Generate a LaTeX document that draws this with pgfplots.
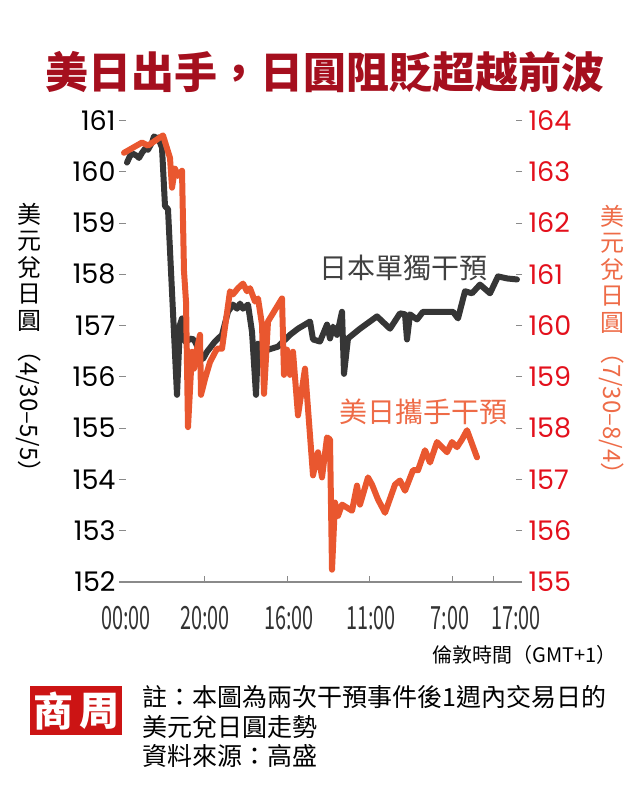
\documentclass[border=0pt]{standalone}
\usepackage{fontspec}
\usepackage{pgfplots}
\pgfplotsset{compat=1.18}
\setmainfont{Poppins}
\newfontfamily\cjk{Noto Sans CJK TC}
\newfontfamily\pop{Poppins}
\definecolor{blk}{HTML}{363636}
\definecolor{org}{HTML}{E9572F}
\definecolor{orgl}{HTML}{EE6B47}
\definecolor{rlab}{HTML}{E3101C}
\definecolor{ttl}{HTML}{A50F1E}
\definecolor{tk}{HTML}{8A8A8A}
\definecolor{logo}{HTML}{CC1414}
\newcommand\fs[1]{\fontsize{#1bp}{#1bp}\selectfont}

\pgfplotstableread{
x y
8 160.18
11 160.31
14 160.35
18 160.31
20 160.27
23 160.37
26 160.45
29 160.43
33 160.57
35 160.69
38 160.65
39 160.67
43 160.47
46 159.33
49 159.27
58 155.65
61 157.02
63 157.14
66 156.69
73 156.75
76 156.69
84 156.35
88 156.49
96 156.69
103 156.82
109 157.27
114 157.41
118 157.33
121 157.43
124 157.33
129 157.41
133 156.88
137 155.65
139 156.65
143 156.61
149 156.53
159 156.59
171 156.82
179 156.94
191 157.08
194 156.73
201 156.69
208 157.02
211 156.75
214 156.98
218 156.82
223 157.27
225 156.06
229 156.75
241 156.94
258 157.18
271 156.94
281 157.24
286 157.22
288 156.73
291 157.22
298 157.12
304 157.27
334 157.27
339 157.14
346 157.67
353 157.63
361 157.80
371 157.63
379 157.96
388 157.92
398 157.90
}\japan

\pgfplotstableread{
x y
5 163.37
23 163.57
29 163.51
44 163.71
51 163.27
53 162.69
56 163.06
59 162.92
63 163.02
65 161.06
67 160.47
69 158.02
73 159.49
75 159.16
78 159.55
81 159.82
82 158.65
86 158.96
91 159.29
98 159.55
103 159.55
111 160.67
114 160.61
119 160.73
124 160.82
128 160.67
131 160.73
136 160.47
139 160.53
143 160.02
145 158.67
149 160.08
163 160.53
165 159.04
168 159.53
171 159.04
174 159.49
179 158.25
186 159.16
194 157.08
199 157.53
203 157.04
208 157.82
211 157.78
213 155.24
216 156.55
219 156.29
223 156.51
233 156.39
238 156.88
241 156.51
249 157.04
253 156.90
259 156.61
266 156.35
276 156.90
281 156.98
286 156.78
294 157.18
299 157.18
306 157.57
311 157.33
318 157.73
328 157.53
333 157.73
338 157.63
343 157.78
348 157.96
358 157.43
}\usjapan

\begin{document}
\begin{tikzpicture}
\useasboundingbox (0,0) rectangle (644bp,-800bp);
% title
\node[font=\cjk\bfseries\fs{43}, text=ttl] at (325bp,-72bp) {美日出手，日圓阻貶超越前波};

\begin{axis}[
  at={(119bp,-582bp)}, anchor=south west,
  scale only axis, width=403bp, height=461.5bp,
  xmin=0, xmax=403, ymin=152, ymax=161,
  axis x line*=bottom, axis y line*=left,
  x axis line style={draw=tk, line width=1.2bp, -},
  y axis line style={draw=none},
  xtick={85,168,250,333,374}, xticklabels={},
  ytick={152,153,...,161},
  tick align=inside, major tick length=6.5bp,
  xtick style={draw=tk, line width=1bp},
  ytick style={draw=tk, line width=1bp},
  /pgf/number format/assume math mode=true,
  yticklabel style={font=\pop\fs{27}, text=black},
]
\addplot[blk, line width=6bp, line join=round, line cap=round] table[x=x,y=y] {\japan};
\end{axis}

\begin{axis}[
  at={(119bp,-582bp)}, anchor=south west,
  scale only axis, width=403bp, height=461.5bp,
  xmin=0, xmax=403, ymin=155, ymax=164,
  axis x line=none, axis y line*=right,
  y axis line style={draw=none},
  ytick={155,156,...,164},
  tick align=inside, major tick length=6.5bp,
  ytick style={draw=tk, line width=1bp},
  /pgf/number format/assume math mode=true,
  yticklabel style={font=\pop\fs{27}, text=rlab, xshift=3bp},
]
\addplot[org, line width=6bp, line join=round, line cap=round] table[x=x,y=y] {\usjapan};
\end{axis}

% x tick labels
\foreach \x/\l in {126/00:00, 205/20:00, 289/16:00, 371/11:00, 450/7:00, 516/17:00}{
  \node[font=\cjk\fs{32}, text=black!80, inner sep=0] at ({\x bp},-618bp) {\scalebox{0.62}[1]{\l}};
}
\node[anchor=east, font=\cjk\fs{20}, inner sep=0] at (617bp,-655bp) {倫敦時間（GMT+1）};

% series labels
\node[font=\cjk\fs{28}, text=black!75, inner sep=0] at (403bp,-268bp) {日本單獨干預};
\node[font=\cjk\fs{28}, text=orgl, inner sep=0] at (423bp,-412bp) {美日攜手干預};

% vertical axis titles
\node[anchor=north, font=\cjk\fontsize{24bp}{26.5bp}\selectfont, align=center, inner sep=0] at (29bp,-203bp) {美\\元\\兌\\日\\圓};
\node[rotate=-90, anchor=west, font=\cjk\fs{24}, inner sep=0] at (29bp,-338bp) {（4/30–5/5）};
\node[anchor=north, font=\cjk\fontsize{24bp}{26.5bp}\selectfont, align=center, inner sep=0, text=orgl] at (612bp,-205bp) {美\\元\\兌\\日\\圓};
\node[rotate=-90, anchor=west, font=\cjk\fs{24}, inner sep=0, text=orgl] at (612bp,-340bp) {（7/30–8/4）};

% logo
\fill[logo] (30bp,-686bp) rectangle (122bp,-735bp);
\node[font=\cjk\bfseries\fs{40}, text=white, inner sep=0] at (53bp,-711bp) {商};
\node[font=\cjk\bfseries\fs{40}, text=white, inner sep=0] at (99bp,-711bp) {周};

% note
\node[anchor=west, font=\cjk\fs{25}, inner sep=0] at (142bp,-697bp) {註：本圖為兩次干預事件後1週內交易日的};
\node[anchor=west, font=\cjk\fs{25}, inner sep=0] at (142bp,-727bp) {美元兌日圓走勢};
\node[anchor=west, font=\cjk\fs{25}, inner sep=0] at (142bp,-756bp) {資料來源：高盛};
\end{tikzpicture}
\end{document}
